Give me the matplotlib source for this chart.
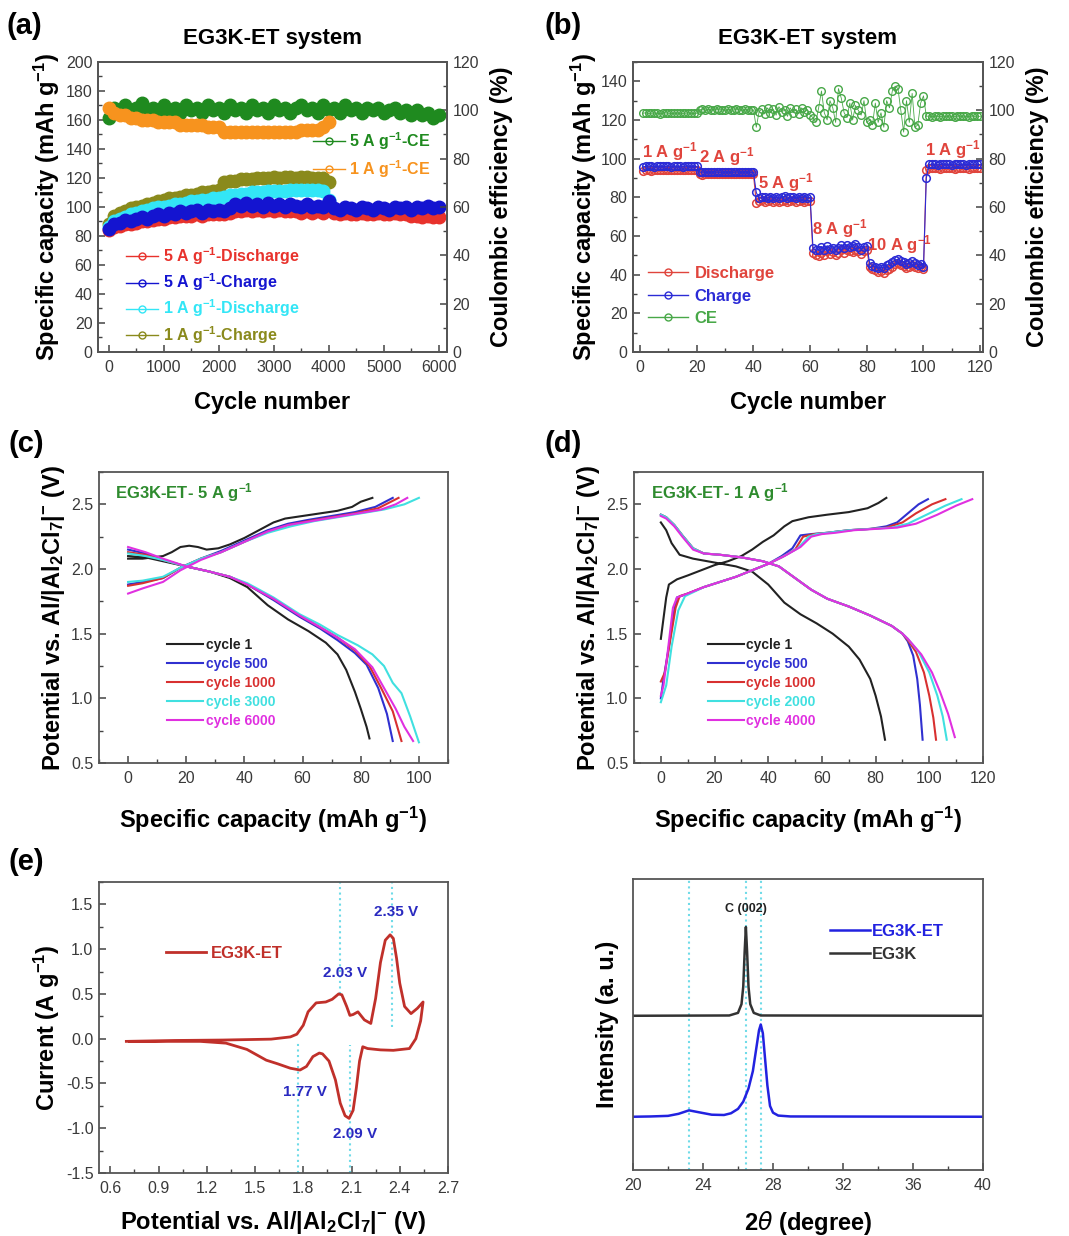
import numpy as np
import matplotlib
matplotlib.use('Agg')
import matplotlib.pyplot as plt
from matplotlib.ticker import MultipleLocator, FormatStrFormatter
from matplotlib.lines import Line2D

plt.rcParams['font.family'] = ['Liberation Sans', 'DejaVu Sans']
plt.rcParams['mathtext.default'] = 'regular'

W, H = 1069, 1236

# ---------------- (a) long cycling ----------------
cyc_5a = np.arange(0, 6001, 100)
cap_5a_dis = [84, 86, 87, 88, 88, 89, 90, 90, 91, 92,
              92, 93, 93, 94, 94, 94, 95, 94, 95, 95,
              95, 95, 96, 97, 97, 98, 97, 98, 97, 98,
              97, 98, 97, 97, 97, 96, 97, 96, 97, 96,
              98, 96, 95, 96, 95, 95, 96, 95, 95, 96,
              95, 95, 96, 95, 95, 94, 94, 93, 94, 93, 93]
cap_5a_chg = [85, 88, 89, 91, 90, 92, 93, 92, 94, 95,
              94, 96, 95, 97, 96, 97, 98, 96, 98, 97,
              98, 97, 99, 102, 101, 103, 101, 102, 100, 103,
              101, 102, 100, 102, 101, 100, 102, 100, 101, 100,
              104, 99, 98, 100, 99, 98, 100, 99, 98, 100,
              99, 98, 100, 99, 100, 98, 100, 99, 101, 99, 100]
ce_5a = [97, 101, 100, 102, 99, 101, 103, 100, 101, 99,
         102, 100, 101, 99, 102, 100, 101, 99, 102, 100,
         101, 99, 102, 100, 101, 99, 102, 100, 101, 99,
         102, 100, 101, 99, 101, 102, 100, 101, 99, 102,
         100, 101, 99, 102, 100, 101, 99, 101, 100, 101,
         99, 100, 101, 99, 100, 98, 100, 98, 99, 97, 98]

cyc_1a = np.arange(0, 4001, 100)
cap_1a_chg = [88, 94, 96, 97, 99, 100, 101, 102, 103, 104,
              105, 106, 106, 107, 108, 108, 109, 110, 110, 111,
              112, 117, 118, 118, 119, 119, 119, 120, 120, 120,
              121, 120, 121, 121, 120, 121, 121, 120, 120, 120, 117]
cap_1a_dis = [86, 90, 92, 93, 95, 96, 97, 98, 99, 100,
              100, 101, 102, 102, 103, 104, 104, 105, 105, 106,
              106, 107, 108, 108, 109, 109, 110, 110, 110, 111,
              111, 111, 111, 112, 112, 112, 112, 112, 112, 111, 105]
ce_1a = [101, 99, 98, 98, 97, 97, 96, 96, 96, 95,
         95, 95, 95, 94, 94, 94, 94, 94, 93, 93,
         93, 91, 91, 91, 91, 91, 91, 91, 91, 91,
         91, 91, 91, 91, 91, 92, 92, 92, 92, 93, 95]

# ---------------- (b) rate capability ----------------
cyc_rate = np.arange(1, 121)
dis_rate = [93.5, 94, 94, 93.8, 94, 94.2, 94, 93.9, 94, 94.1, 94, 94, 93.9, 94, 94.2, 94, 94, 94.1, 94, 94,
            92, 91.8, 92, 92.1, 92, 91.9, 92, 92, 92.1, 92, 91.9, 92, 92, 92.1, 92, 92, 91.9, 92, 92.1, 92,
            77, 78, 78.5, 77.5, 78, 78.5, 77.8, 78.2, 77.5, 78, 78.6, 77.4, 78, 78.4, 77.6, 78.2, 78.5, 77.8, 78, 78.3,
            51, 50, 49.5, 51, 50, 52, 50.5, 51.5, 50, 51, 52.5, 51, 53, 52, 51.5, 53, 52, 50.5, 52, 53,
            44, 43, 42.5, 41.5, 42, 41, 42.5, 43, 44, 45.5, 46, 45, 44.5, 43.5, 44, 45, 44, 43.5, 44, 43,
            94, 95, 95, 95.2, 95, 94.8, 95, 95.1, 95, 95, 94.9, 95, 95.1, 95, 95, 94.9, 95, 95.1, 95, 95]
chg_rate = [95.8, 96, 96.2, 96, 95.9, 96, 96.1, 96, 96, 96.2, 95.9, 96, 96.1, 96, 95.9, 96.2, 96, 96, 96.1, 96,
            93, 93.1, 92.9, 93, 93, 93.2, 93, 92.9, 93, 93.1, 93, 93, 92.9, 93.1, 93, 93, 93.2, 93, 92.9, 93,
            82.5, 79.5, 80, 80.3, 79.6, 80.2, 79.8, 80.4, 79.7, 80, 80.5, 79.5, 80.2, 80, 79.6, 80.4, 79.8, 80.3, 79.9, 80,
            54, 52.5, 53, 54.5, 53, 55, 53.5, 54, 53, 54, 55.5, 54, 55.5, 54.5, 55, 56, 54.5, 53, 54.5, 55,
            46, 44.5, 44, 43.5, 44, 43.5, 45, 45.5, 46.5, 47.5, 48, 47, 46.5, 45.5, 46, 47, 46, 45, 45.5, 44,
            90, 97, 97.2, 97, 96.8, 97, 97.1, 97, 97, 96.9, 97.2, 97, 97, 97.1, 96.9, 97, 97, 97.2, 97, 97]
ce_rate = [98.8, 99, 98.7, 98.8, 98.9, 98.8, 98.6, 98.8, 99, 98.8, 98.7, 98.8, 98.9, 98.8, 98.7, 98.8, 99, 98.8, 98.7, 98.8,
           100.2, 100.5, 100, 100.4, 100.2, 100.1, 100.5, 100.2, 100.3, 100, 100.4, 100.2, 100.1, 100.5, 100.2, 100, 100.4, 100.3, 100.1, 100.2,
           93, 99.5, 100.5, 98.5, 101, 99, 100.5, 98, 101.5, 99.5, 100, 97.5, 101, 99, 100.5, 98.5, 101, 99.5, 100, 98,
           97, 95, 101, 108, 99, 96, 104, 101, 95, 109, 105, 99, 97, 103, 96, 102, 100, 98, 104, 95,
           96, 94, 103, 95, 99, 93, 104, 101, 108, 110, 109, 100, 91, 104, 95, 107, 93, 94, 103, 106,
           97.5, 97.7, 97.4, 97.6, 97.5, 97.4, 97.6, 97.5, 97.7, 97.5, 97.4, 97.6, 97.5, 97.7, 97.5, 97.4, 97.6, 97.5, 97.6, 97.5]
rate_labels = ['1 A g$^{-1}$', '2 A g$^{-1}$', '5 A g$^{-1}$', '8 A g$^{-1}$', '10 A g$^{-1}$', '1 A g$^{-1}$']
rate_label_x = [10.5, 30.5, 51.5, 70.5, 91.5, 110.5]
rate_label_y = [103.5, 101, 87.5, 64, 55.5, 104.5]

# ---------------- (c) 5 A g-1 profiles (charge, NaN, discharge) ----------------
c_cap_1 = [0, 5, 12, 15, 18, 21, 24, 27, 31, 35, 40, 45, 50, 54, 60, 66, 72, 77, 80, 84, np.nan,
           0, 6, 12, 20, 28, 35, 41, 48, 55, 62, 68, 72, 75, 78, 80, 82, 83]
c_v_1 = [2.08, 2.08, 2.10, 2.13, 2.17, 2.18, 2.17, 2.15, 2.16, 2.19, 2.24, 2.30, 2.36, 2.39, 2.41, 2.43, 2.45, 2.48, 2.52, 2.55, np.nan,
         2.10, 2.09, 2.06, 2.02, 1.98, 1.93, 1.86, 1.72, 1.61, 1.52, 1.43, 1.34, 1.22, 1.05, 0.92, 0.78, 0.69]
c_cap_500 = [0, 5, 12, 18, 25, 32, 40, 48, 55, 62, 70, 78, 85, 91, np.nan,
             0, 6, 12, 20, 28, 35, 41, 50, 59, 66, 72, 78, 82, 86, 89, 91]
c_v_500 = [1.88, 1.90, 1.93, 2.01, 2.08, 2.14, 2.22, 2.30, 2.35, 2.38, 2.41, 2.44, 2.48, 2.55, np.nan,
           2.15, 2.12, 2.07, 2.02, 1.98, 1.94, 1.88, 1.76, 1.63, 1.54, 1.45, 1.35, 1.26, 1.08, 0.88, 0.67]
c_cap_1000 = [0, 5, 12, 18, 25, 32, 40, 48, 55, 62, 70, 78, 86, 93, np.nan,
              0, 6, 12, 20, 28, 35, 41, 50, 59, 66, 72, 78, 83, 87, 91, 94]
c_v_1000 = [1.87, 1.89, 1.93, 2.01, 2.08, 2.13, 2.21, 2.29, 2.34, 2.37, 2.40, 2.43, 2.47, 2.55, np.nan,
            2.13, 2.11, 2.07, 2.02, 1.98, 1.94, 1.88, 1.77, 1.64, 1.55, 1.47, 1.37, 1.25, 1.08, 0.90, 0.67]
c_cap_3000 = [0, 5, 12, 18, 25, 32, 40, 48, 56, 64, 72, 80, 88, 95, 100, np.nan,
              0, 6, 12, 20, 28, 35, 41, 50, 59, 66, 72, 79, 84, 88, 91, 94, 97, 100]
c_v_3000 = [1.90, 1.91, 1.94, 2.01, 2.08, 2.13, 2.21, 2.28, 2.33, 2.37, 2.40, 2.43, 2.46, 2.50, 2.55, np.nan,
            2.12, 2.10, 2.07, 2.02, 1.98, 1.94, 1.89, 1.78, 1.65, 1.57, 1.49, 1.41, 1.34, 1.25, 1.12, 1.04, 0.86, 0.66]
c_cap_6000 = [0, 5, 12, 18, 25, 32, 40, 48, 55, 63, 71, 79, 87, 92, 96, np.nan,
              0, 6, 12, 20, 28, 35, 41, 50, 59, 66, 72, 78, 84, 88, 92, 95, 98]
c_v_6000 = [1.81, 1.85, 1.90, 1.99, 2.07, 2.13, 2.21, 2.29, 2.34, 2.37, 2.40, 2.43, 2.46, 2.50, 2.55, np.nan,
            2.17, 2.13, 2.08, 2.02, 1.98, 1.94, 1.88, 1.77, 1.64, 1.55, 1.47, 1.38, 1.24, 1.08, 0.92, 0.78, 0.67]

# ---------------- (d) 1 A g-1 profiles ----------------
d_cap_1 = [0, 1, 2, 3, 6, 10, 15, 20, 25, 30, 34, 38, 42, 46, 49, 55, 62, 70, 77, 81, 84, np.nan,
           0, 2, 4, 7, 12, 20, 28, 34, 40, 46, 52, 58, 64, 70, 74, 78, 80, 82, 83.5]
d_v_1 = [1.46, 1.62, 1.78, 1.88, 1.92, 1.95, 1.99, 2.03, 2.06, 2.10, 2.15, 2.21, 2.26, 2.33, 2.37, 2.40, 2.42, 2.44, 2.47, 2.51, 2.55, np.nan,
         2.36, 2.30, 2.20, 2.11, 2.08, 2.05, 2.02, 1.98, 1.88, 1.74, 1.65, 1.58, 1.50, 1.40, 1.30, 1.15, 1.02, 0.86, 0.68]
d_cap_500 = [0, 1, 3, 5, 6, 10, 16, 22, 28, 34, 40, 45, 49, 52, 56, 62, 70, 78, 84, 88, 92, 96, 99.5, np.nan,
             0, 2, 5, 8, 12, 16, 22, 30, 38, 44, 50, 56, 62, 70, 78, 86, 90, 92, 94, 95.5, 96.5, 97.5]
d_v_500 = [1.00, 1.15, 1.40, 1.68, 1.78, 1.81, 1.86, 1.90, 1.94, 1.99, 2.04, 2.10, 2.16, 2.26, 2.27, 2.28, 2.30, 2.31, 2.33, 2.36, 2.43, 2.50, 2.54, np.nan,
           2.42, 2.40, 2.34, 2.26, 2.16, 2.12, 2.11, 2.09, 2.06, 2.02, 1.93, 1.84, 1.77, 1.71, 1.64, 1.56, 1.50, 1.44, 1.33, 1.15, 0.95, 0.68]
d_cap_1000 = [0, 1.5, 3.5, 5.5, 7, 10, 16, 22, 28, 34, 40, 45, 50, 53, 57, 62, 70, 78, 84, 90, 95, 101, 106, np.nan,
              0, 2, 5, 8, 12, 16, 22, 30, 38, 44, 50, 56, 62, 70, 78, 86, 90, 92, 95, 98, 100, 101.5, 102.5]
d_v_1000 = [1.13, 1.20, 1.45, 1.70, 1.79, 1.81, 1.86, 1.90, 1.94, 1.99, 2.04, 2.09, 2.15, 2.25, 2.27, 2.28, 2.30, 2.31, 2.32, 2.36, 2.43, 2.50, 2.54, np.nan,
            2.42, 2.40, 2.34, 2.26, 2.16, 2.12, 2.11, 2.09, 2.06, 2.02, 1.93, 1.84, 1.77, 1.71, 1.64, 1.56, 1.50, 1.45, 1.36, 1.20, 1.02, 0.85, 0.68]
d_cap_2000 = [0, 2, 4, 6.5, 9, 12, 16, 22, 28, 34, 40, 45, 51, 55, 58, 62, 70, 78, 86, 92, 99, 106, 112, np.nan,
              0, 2, 5, 8, 12, 16, 22, 30, 38, 44, 50, 56, 62, 70, 78, 86, 90, 92, 96, 100, 103, 105, 106.5]
d_v_2000 = [0.97, 1.10, 1.40, 1.68, 1.79, 1.82, 1.86, 1.90, 1.94, 1.99, 2.04, 2.09, 2.16, 2.25, 2.27, 2.28, 2.30, 2.31, 2.32, 2.35, 2.42, 2.49, 2.54, np.nan,
            2.42, 2.40, 2.34, 2.26, 2.16, 2.12, 2.11, 2.09, 2.06, 2.02, 1.93, 1.84, 1.77, 1.71, 1.64, 1.56, 1.50, 1.46, 1.36, 1.20, 1.02, 0.86, 0.68]
d_cap_4000 = [0, 1, 2.5, 4.5, 6, 10, 16, 22, 28, 34, 40, 46, 52, 56, 60, 65, 72, 80, 88, 95, 103, 110, 116, np.nan,
              0, 2, 5, 8, 12, 16, 22, 30, 38, 44, 50, 56, 62, 70, 78, 86, 90, 92, 97, 101, 104, 107, 109.5]
d_v_4000 = [1.02, 1.10, 1.35, 1.70, 1.78, 1.81, 1.86, 1.90, 1.94, 1.99, 2.04, 2.10, 2.17, 2.25, 2.27, 2.28, 2.30, 2.31, 2.32, 2.35, 2.42, 2.49, 2.54, np.nan,
            2.41, 2.39, 2.33, 2.25, 2.15, 2.12, 2.11, 2.09, 2.06, 2.02, 1.93, 1.84, 1.77, 1.71, 1.64, 1.56, 1.50, 1.46, 1.34, 1.20, 1.05, 0.88, 0.70]

# ---------------- (e) CV ----------------
cv_v = [0.70, 1.00, 1.30, 1.60, 1.72, 1.76, 1.80, 1.83, 1.88, 1.94, 1.98, 2.02, 2.04, 2.07, 2.09, 2.11, 2.14, 2.18, 2.22,
        2.25, 2.28, 2.31, 2.34, 2.36, 2.38, 2.40, 2.43, 2.47, 2.51, 2.545,
        2.53, 2.50, 2.46, 2.36, 2.28, 2.20, 2.17, 2.15, 2.13, 2.11, 2.085, 2.06, 2.03, 2.00, 1.96, 1.92, 1.90, 1.86,
        1.82, 1.78, 1.72, 1.64, 1.57, 1.45, 1.32, 1.16, 0.90, 0.72]
cv_i = [-0.03, -0.02, -0.015, -0.005, 0.02, 0.05, 0.15, 0.30, 0.40, 0.41, 0.44, 0.50, 0.49, 0.36, 0.26, 0.27, 0.30, 0.21, 0.17,
        0.45, 0.85, 1.10, 1.16, 1.12, 0.90, 0.62, 0.36, 0.28, 0.34, 0.41,
        0.20, 0.00, -0.11, -0.13, -0.125, -0.11, -0.09, -0.25, -0.55, -0.80, -0.89, -0.86, -0.72, -0.46, -0.25, -0.17, -0.16, -0.20,
        -0.31, -0.35, -0.33, -0.28, -0.24, -0.12, -0.05, -0.03, -0.03, -0.03]
cv_peaks = [1.77, 2.03, 2.09, 2.35]
cv_line_lo = [-1.5, 0.5, -1.5, 0.13]
cv_line_hi = [-0.05, 1.75, -0.07, 1.75]
cv_labels = ['1.77 V', '2.03 V', '2.09 V', '2.35 V']
cv_label_x = [1.81, 2.06, 2.12, 2.38]
cv_label_y = [-0.59, 0.73, -1.07, 1.42]

# ---------------- (f) XRD ----------------
xrd_tt_eg = [20, 25.5, 26.0, 26.2, 26.3, 26.38, 26.45, 26.52, 26.6, 26.7, 26.9, 27.3, 40]
xrd_i_eg = [0.53, 0.531, 0.54, 0.57, 0.63, 0.75, 0.835, 0.75, 0.63, 0.57, 0.54, 0.531, 0.53]
xrd_tt_et = [20, 21, 22, 22.6, 23.2, 23.8, 24.5, 25.2, 25.6, 26.0, 26.3, 26.6, 26.85, 27.05, 27.2, 27.3,
             27.42, 27.55, 27.68, 27.83, 28.0, 28.3, 29, 40]
xrd_i_et = [0.183, 0.184, 0.186, 0.193, 0.205, 0.198, 0.19, 0.189, 0.195, 0.21, 0.235, 0.28, 0.34, 0.42, 0.48, 0.50,
            0.47, 0.38, 0.29, 0.22, 0.197, 0.187, 0.184, 0.183]
xrd_marks = [23.2, 26.45, 27.3]

# colours
RED, BLUE, CYAN, OLIVE = '#e8322c', '#1414d0', '#33e6f6', '#8a8a1c'
GREEN, ORANGE = '#1f8a1f', '#f7931e'
TICK_C = '#3a3a3a'


def rect(l, t, r, b):
    return [l / W, 1 - b / H, (r - l) / W, (b - t) / H]


def style(ax, xmaj, xmin, ymaj=None, ymin=None, right=False):
    ax.xaxis.set_major_locator(MultipleLocator(xmaj))
    ax.xaxis.set_minor_locator(MultipleLocator(xmin))
    if ymaj:
        ax.yaxis.set_major_locator(MultipleLocator(ymaj))
        ax.yaxis.set_minor_locator(MultipleLocator(ymin))
    ax.tick_params(which='both', direction='in', top=False, labelsize=11.5,
                   labelcolor=TICK_C, color='#444444', pad=4,
                   left=not right, right=right)
    ax.tick_params(axis='x', which='both', pad=6)
    ax.tick_params(which='major', length=5, width=1.1)
    ax.tick_params(which='minor', length=3, width=1.0)
    for s in ax.spines.values():
        s.set_color('#555555')
        s.set_linewidth(1.3)


def xlab(ax, text, pad=11):
    ax.set_xlabel(text, fontsize=17, fontweight='bold', labelpad=pad)


def ylab(ax, text, pad=3):
    ax.set_ylabel(text, fontsize=17, fontweight='bold', labelpad=pad)


def proxy(color, ms=5):
    return Line2D([], [], color=color, marker='o', mfc='none', ms=ms, lw=1)


fig = plt.figure(figsize=(W / 100, H / 100), dpi=100)
for lab, x, y in [('(a)', 6, 12), ('(b)', 545, 12), ('(c)', 8, 430), ('(d)', 545, 430), ('(e)', 8, 848)]:
    fig.text(x / W, 1 - y / H, lab, fontsize=21, fontweight='bold', va='top')

# ---- (a)
ax = fig.add_axes(rect(98, 62, 447, 352))
ax.plot(cyc_1a, cap_1a_chg, 'o-', color=OLIVE, ms=9, lw=3.5)
ax.plot(cyc_1a, cap_1a_dis, 'o-', color=CYAN, ms=9, lw=3.5)
ax.plot(cyc_5a, cap_5a_dis, 'o-', color=RED, ms=9, lw=3.5)
ax.plot(cyc_5a, cap_5a_chg, 'o-', color=BLUE, ms=9, lw=3.5)
ax.set_xlim(-200, 6150)
ax.set_ylim(0, 200)
style(ax, 1000, 500, 20, 10)
ax.set_title('EG3K-ET system', fontsize=16, fontweight='bold', pad=13)
xlab(ax, 'Cycle number')
ylab(ax, 'Specific capacity (mAh g$^{-1}$)')
ax.legend([proxy(RED), proxy(BLUE), proxy(CYAN), proxy(OLIVE)],
          ['5 A g$^{-1}$-Discharge', '5 A g$^{-1}$-Charge',
           '1 A g$^{-1}$-Discharge', '1 A g$^{-1}$-Charge'],
          loc='center left', bbox_to_anchor=(0.04, 0.195), frameon=False,
          prop=dict(weight='bold', size=11.5), handlelength=2.0,
          handletextpad=0.3, labelspacing=0.28,
          labelcolor=[RED, BLUE, CYAN, OLIVE])
ax2 = ax.twinx()
ax2.plot(cyc_5a, ce_5a, 'o-', color=GREEN, ms=9, lw=3.5)
ax2.plot(cyc_1a, ce_1a, 'o-', color=ORANGE, ms=9, lw=3.5)
ax2.set_ylim(0, 120)
style(ax2, 1000, 500, 20, 10, right=True)
ax2.set_ylabel('Coulombic efficiency (%)', fontsize=17, fontweight='bold', labelpad=8)
ax2.legend([proxy(GREEN), proxy(ORANGE)], ['5 A g$^{-1}$-CE', '1 A g$^{-1}$-CE'],
           loc='center right', bbox_to_anchor=(0.995, 0.68), frameon=False,
           prop=dict(weight='bold', size=11.5), handlelength=2.0,
           handletextpad=0.3, labelspacing=0.4, labelcolor=[GREEN, ORANGE])

# ---- (b)
RB, BB, GB = '#e0443c', '#2b2bd6', '#48a848'
ax = fig.add_axes(rect(633, 62, 983, 352))
ax.plot(cyc_rate, dis_rate, 'o-', color=RB, ms=5.5, mfc='none', mew=1.1, lw=0.8)
ax.plot(cyc_rate, chg_rate, 'o-', color=BB, ms=5.5, mfc='none', mew=1.1, lw=0.8)
for t, x, y in zip(rate_labels, rate_label_x, rate_label_y):
    ax.text(x, y, t, color=RB, fontsize=12, fontweight='bold', ha='center', va='center')
ax.set_xlim(-2.5, 121)
ax.set_ylim(0, 150)
style(ax, 20, 10, 20, 10)
ax.set_title('EG3K-ET system', fontsize=16, fontweight='bold', pad=13)
xlab(ax, 'Cycle number')
ylab(ax, 'Specific capacity (mAh g$^{-1}$)', pad=1)
ax2 = ax.twinx()
ax2.plot(cyc_rate, ce_rate, 'o-', color=GB, ms=5.5, mfc='none', mew=1.0, lw=0.6)
ax2.set_ylim(0, 120)
style(ax2, 20, 10, 20, 10, right=True)
ax2.set_ylabel('Coulombic efficiency (%)', fontsize=17, fontweight='bold', labelpad=8)
ax2.legend([proxy(RB), proxy(BB), proxy(GB)], ['Discharge', 'Charge', 'CE'],
           loc='center left', bbox_to_anchor=(0.0, 0.193), frameon=False,
           prop=dict(weight='bold', size=12), handlelength=2.4,
           handletextpad=0.4, labelspacing=0.45, labelcolor=[RB, BB, GB])

# ---- (c) and (d)
PK, PB, PR, PC, PM = '#222222', '#3030d0', '#d83030', '#40e0e0', '#e030e0'


def profiles(ax, curves, names, title, tx, legx, xmax):
    for (cap, v), name, col in zip(curves, names, [PK, PB, PR, PC, PM]):
        ax.plot(cap, v, color=col, lw=1.5, label=name)
    ax.set_xlim(-10, xmax)
    ax.set_ylim(0.5, 2.75)
    style(ax, 20, 10, 0.5, 0.25)
    ax.yaxis.set_major_formatter(FormatStrFormatter('%.1f'))
    ax.text(tx, 0.93, title, transform=ax.transAxes, color='#2e8b2e',
            fontsize=12, fontweight='bold', va='center')
    ax.legend(loc='center left', bbox_to_anchor=(legx, 0.275), frameon=False,
              prop=dict(weight='bold', size=10), handlelength=2.6,
              handletextpad=0.2, labelspacing=0.35, labelcolor='linecolor')
    xlab(ax, 'Specific capacity (mAh g$^{-1}$)', pad=13)
    ylab(ax, 'Potential vs. Al/|Al$_2$Cl$_7$|$^{-}$ (V)')


ax = fig.add_axes(rect(99, 472, 448, 763))
profiles(ax, [(c_cap_1, c_v_1), (c_cap_500, c_v_500), (c_cap_1000, c_v_1000),
              (c_cap_3000, c_v_3000), (c_cap_6000, c_v_6000)],
         ['cycle 1', 'cycle 500', 'cycle 1000', 'cycle 3000', 'cycle 6000'],
         'EG3K-ET- 5 A g$^{-1}$', 0.046, 0.16, 110)
ax = fig.add_axes(rect(634, 472, 983, 763))
profiles(ax, [(d_cap_1, d_v_1), (d_cap_500, d_v_500), (d_cap_1000, d_v_1000),
              (d_cap_2000, d_v_2000), (d_cap_4000, d_v_4000)],
         ['cycle 1', 'cycle 500', 'cycle 1000', 'cycle 2000', 'cycle 4000'],
         'EG3K-ET- 1 A g$^{-1}$', 0.05, 0.175, 120)

# ---- (e)
ax = fig.add_axes(rect(99, 882, 448, 1173))
ax.vlines(cv_peaks, cv_line_lo, cv_line_hi, colors='#6fdbe8', linestyles=':', lw=1.5)
ax.plot(cv_v, cv_i, color='#c0302a', lw=2, label='EG3K-ET')
for t, x, y in zip(cv_labels, cv_label_x, cv_label_y):
    ax.text(x, y, t, color='#2a2ac0', fontsize=11, fontweight='bold', ha='center', va='center')
ax.set_xlim(0.53, 2.7)
ax.set_ylim(-1.5, 1.75)
style(ax, 0.3, 0.15, 0.5, 0.25)
ax.set_xticks(np.arange(0.6, 2.71, 0.3))
ax.xaxis.set_major_formatter(FormatStrFormatter('%.1f'))
ax.yaxis.set_major_formatter(FormatStrFormatter('%.1f'))
ax.legend(loc='center left', bbox_to_anchor=(0.15, 0.756), frameon=False,
          prop=dict(weight='bold', size=12), handlelength=2.4,
          handletextpad=0.3, labelcolor='linecolor')
xlab(ax, 'Potential vs. Al/|Al$_2$Cl$_7$|$^{-}$ (V)', pad=9)
ylab(ax, 'Current (A g$^{-1}$)')

# ---- (f)
ax = fig.add_axes(rect(633, 879, 983, 1170))
for x in xrd_marks:
    ax.axvline(x, color='#6fdbe8', ls=':', lw=1.5)
ax.plot(xrd_tt_et, xrd_i_et, color='#2222e0', lw=1.8, label='EG3K-ET')
ax.plot(xrd_tt_eg, xrd_i_eg, color='#333333', lw=1.8, label='EG3K')
ax.text(26.45, 0.875, 'C (002)', fontsize=9, fontweight='bold', ha='center', va='bottom', color='#222222')
ax.set_xlim(20, 40)
ax.set_ylim(0, 1)
style(ax, 4, 2)
ax.set_yticks([])
ax.legend(loc='center left', bbox_to_anchor=(0.52, 0.78), frameon=False,
          prop=dict(weight='bold', size=12), handlelength=2.4,
          handletextpad=0.1, labelcolor='linecolor')
xlab(ax, '2$\\mathit{\\theta}$ (degree)', pad=11)
ylab(ax, 'Intensity (a. u.)', pad=10)

fig.savefig('out.png', dpi=100)
